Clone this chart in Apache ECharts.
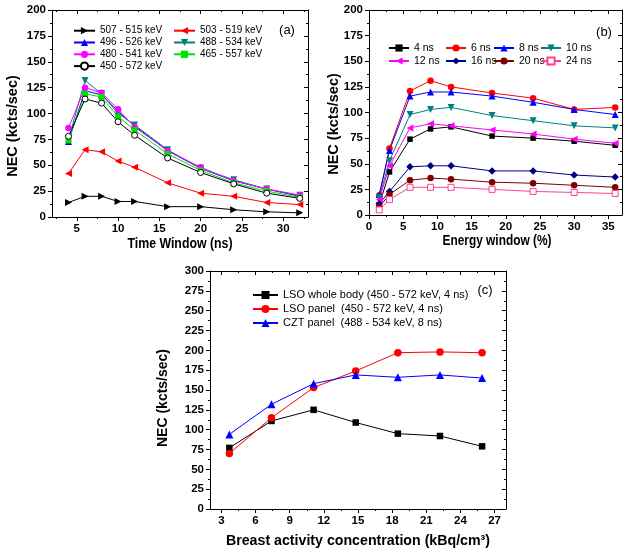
<!DOCTYPE html>
<html><head><meta charset="utf-8">
<script src="https://cdn.jsdelivr.net/npm/echarts@6/dist/echarts.min.js"></script>
<style>html,body{margin:0;padding:0;background:#fff}#c{width:629px;height:553px}</style>
</head><body><div id="c"></div>
<script>
// ---------- Panel (a): NEC vs time window ----------
const aX = [4, 6, 8, 10, 12, 16, 20, 24, 28, 32];
const a507_515 = [14, 20, 20, 15, 15, 10, 10, 7, 5, 4];
const a503_519 = [42, 65, 63, 54, 48, 33, 23, 20, 14, 12];
const a496_526 = [73, 122, 118, 102, 88, 64, 47, 35, 27, 20];
const a488_534 = [75, 132, 119, 100, 89, 65, 47, 36, 27, 21];
const a480_541 = [86, 125, 120, 104, 87, 64, 48, 35, 27, 21];
const a465_557 = [74, 119, 116, 97, 84, 61, 45, 33, 25, 19];
const a450_572 = [78, 114, 110, 92, 79, 57, 43, 32, 23, 18];
const aXTicks = [5, 10, 15, 20, 25, 30];
const aXMinor = [2.5, 7.5, 12.5, 17.5, 22.5, 27.5, 32.5];
const aYTicks = [0, 25, 50, 75, 100, 125, 150, 175, 200];
const aYMinor = [12.5, 37.5, 62.5, 87.5, 112.5, 137.5, 162.5, 187.5];

// ---------- Panel (b): NEC vs energy window ----------
const bX = [1.5, 3, 6, 9, 12, 18, 24, 30, 36];
const b4ns = [10, 42, 74, 84, 86, 77, 75, 72, 68];
const b6ns = [19, 65, 121, 131, 125, 119, 114, 103, 105];
const b8ns = [20, 63, 116, 120, 120, 116, 110, 103, 98];
const b10ns = [17, 53, 98, 103, 105, 97, 92, 87, 85];
const b12ns = [15, 48, 85, 89, 87, 83, 79, 74, 70];
const b16ns = [11, 23, 47, 48, 48, 43, 43, 39, 37];
const b20ns = [8, 20, 34, 36, 35, 32, 31, 29, 27];
const b24ns = [5, 15, 27, 27, 27, 25, 23, 22, 21];
const bXTicks = [0, 5, 10, 15, 20, 25, 30, 35];
const bXMinor = [2.5, 7.5, 12.5, 17.5, 22.5, 27.5, 32.5];
const bYTicks = [0, 25, 50, 75, 100, 125, 150, 175, 200];
const bYMinor = [12.5, 37.5, 62.5, 87.5, 112.5, 137.5, 162.5, 187.5];

// ---------- Panel (c): NEC vs breast activity concentration ----------
const cX = [3.7, 7.4, 11.1, 14.8, 18.5, 22.2, 25.9];
const cLSOwholeBody = [77, 111, 125, 109, 95, 92, 79];
const cLSOpanel = [70, 115, 153, 174, 197, 198, 197];
const cCZTpanel = [94, 132, 158, 169, 166, 169, 165];
const cXTicks = [3, 6, 9, 12, 15, 18, 21, 24, 27];
const cXMinor = [4.5, 7.5, 10.5, 13.5, 16.5, 19.5, 22.5, 25.5];
const cYTicks = [0, 25, 50, 75, 100, 125, 150, 175, 200, 225, 250, 275, 300];
const cYMinor = [12.5, 37.5, 62.5, 87.5, 112.5, 137.5, 162.5, 187.5, 212.5, 237.5, 262.5, 287.5];

const FONT = '"Liberation Sans",Arial,Helvetica,sans-serif';
const xAxes = [], yAxes = [];

function addAxes(list, grid, pos, mirror, min, max, majors, minors, margin) {
  const base = { gridIndex: grid, type: 'value', min: min, max: max, splitLine: { show: false } };
  const line = { color: '#000', width: 1 };
  const idx = list.length;
  list.push(Object.assign({}, base, {
    position: pos,
    axisLine: { show: true, onZero: false, lineStyle: line },
    axisTick: { show: true, customValues: majors, length: 4, lineStyle: line },
    axisLabel: { show: true, customValues: majors, fontFamily: FONT, fontWeight: 'bold', fontSize: 11.5, color: '#000', margin: margin }
  }));
  list.push(Object.assign({}, base, {
    position: pos,
    axisLine: { show: false, onZero: false },
    axisTick: { show: true, customValues: minors, length: 2, lineStyle: line },
    axisLabel: { show: false }
  }));
  list.push(Object.assign({}, base, {
    position: mirror,
    axisLine: { show: true, onZero: false, lineStyle: line },
    axisTick: { show: true, customValues: majors, length: 4, inside: true, lineStyle: line },
    axisLabel: { show: false }
  }));
  list.push(Object.assign({}, base, {
    position: mirror,
    axisLine: { show: false, onZero: false },
    axisTick: { show: true, customValues: minors, length: 2, inside: true, lineStyle: line },
    axisLabel: { show: false }
  }));
  return idx;
}

const axA = addAxes(xAxes, 0, 'bottom', 'top', 2, 33, aXTicks, aXMinor, 6);
const ayA = addAxes(yAxes, 0, 'left', 'right', 0, 200, aYTicks, aYMinor, 6);
const axB = addAxes(xAxes, 1, 'bottom', 'top', 0, 37, bXTicks, bXMinor, 6);
const ayB = addAxes(yAxes, 1, 'left', 'right', 0, 200, bYTicks, bYMinor, 6);
const axC = addAxes(xAxes, 2, 'bottom', 'top', 2, 28, cXTicks, cXMinor, 6);
const ayC = addAxes(yAxes, 2, 'left', 'right', 0, 300, cYTicks, cYMinor, 6);

// hollow: white fill with coloured outline
function mk(name, xs, ys, color, symbol, rotate, xi, yi, size, hollow) {
  return {
    name: name, type: 'line', xAxisIndex: xi, yAxisIndex: yi,
    data: xs.map(function (x, i) { return [x, ys[i]]; }),
    symbol: symbol, symbolSize: size, symbolRotate: rotate,
    showAllSymbol: true, animation: false, z: 3,
    lineStyle: { color: color, width: 1 },
    itemStyle: hollow
      ? { color: '#ffffff', borderColor: color, borderWidth: 1, opacity: 1 }
      : { color: color, borderWidth: 0, opacity: 1 },
    emphasis: { disabled: true }
  };
}

const series = [
  mk('507 - 515 keV', aX, a507_515, '#000000', 'triangle', -90, axA, ayA, 7),
  mk('503 - 519 keV', aX, a503_519, '#ff0000', 'triangle', 90, axA, ayA, 7),
  mk('496 - 526 keV', aX, a496_526, '#0000ff', 'triangle', 0, axA, ayA, 7),
  mk('488 - 534 keV', aX, a488_534, '#008080', 'triangle', 180, axA, ayA, 7),
  mk('480 - 541 keV', aX, a480_541, '#ff00ff', 'circle', 0, axA, ayA, 6.5),
  mk('465 - 557 keV', aX, a465_557, '#00e000', 'rect', 0, axA, ayA, 6),
  mk('450 - 572 keV', aX, a450_572, '#000000', 'circle', 0, axA, ayA, 6, true),

  mk('4 ns', bX, b4ns, '#000000', 'rect', 0, axB, ayB, 5.5),
  mk('6 ns', bX, b6ns, '#ff0000', 'circle', 0, axB, ayB, 6.5),
  mk('8 ns', bX, b8ns, '#0000ff', 'triangle', 0, axB, ayB, 7),
  mk('10 ns', bX, b10ns, '#008080', 'triangle', 180, axB, ayB, 7),
  mk('12 ns', bX, b12ns, '#ff00ff', 'triangle', 90, axB, ayB, 7),
  mk('16 ns', bX, b16ns, '#000080', 'diamond', 0, axB, ayB, 7.5),
  mk('20 ns', bX, b20ns, '#800000', 'circle', 0, axB, ayB, 6.5),
  mk('24 ns', bX, b24ns, '#ff4090', 'rect', 0, axB, ayB, 6, true),

  mk('LSO whole body (450 - 572 keV, 4 ns)', cX, cLSOwholeBody, '#000000', 'rect', 0, axC, ayC, 6.5),
  mk('LSO panel  (450 - 572 keV, 4 ns)', cX, cLSOpanel, '#ff0000', 'circle', 0, axC, ayC, 7.5),
  mk('CZT panel  (488 - 534 keV, 8 ns)', cX, cCZTpanel, '#0000ff', 'triangle', 0, axC, ayC, 8)
];

function lg(names, left, top, fs, lh, iw, ih, gap) {
  return {
    data: names, left: left, top: top, orient: 'vertical', padding: 0,
    itemWidth: iw, itemHeight: ih, itemGap: gap, selectedMode: false,
    textStyle: { fontFamily: FONT, fontSize: fs, lineHeight: lh, color: '#000' }
  };
}

const legends = [
  lg(['507 - 515 keV', '496 - 526 keV', '480 - 541 keV', '450 - 572 keV'], 73, 24.8, 10, 11.8, 21, 9, 0),
  lg(['503 - 519 keV', '488 - 534 keV', '465 - 557 keV'], 173, 24.8, 10, 11.8, 21, 9, 0),
  lg(['4 ns', '12 ns'], 388, 42, 10.5, 12, 20, 9, 1),
  lg(['6 ns', '16 ns'], 445, 42, 10.5, 12, 20, 9, 1),
  lg(['8 ns', '20 ns'], 493, 42, 10.5, 12, 20, 9, 1),
  lg(['10 ns', '24 ns'], 540, 42, 10.5, 12, 20, 9, 1),
  lg(['LSO whole body (450 - 572 keV, 4 ns)', 'LSO panel  (450 - 572 keV, 4 ns)', 'CZT panel  (488 - 534 keV, 8 ns)'], 252, 288.5, 11, 13, 25, 10, 1)
];

function txt(s, x, y, size, bold, rot, sx) {
  return {
    type: 'text', x: x, y: y, rotation: rot || 0, scaleX: sx || 1, silent: true,
    style: { text: s, fontFamily: FONT, fontSize: size, fontWeight: bold ? 'bold' : 'normal', fill: '#000', align: 'center', verticalAlign: 'middle' }
  };
}

const option = {
  backgroundColor: '#fff',
  animation: false,
  grid: [
    { left: 52, top: 10, width: 256, height: 207, outerBoundsMode: 'none', containLabel: false },
    { left: 369, top: 10, width: 253, height: 205, outerBoundsMode: 'none', containLabel: false },
    { left: 210, top: 271, width: 296, height: 238, outerBoundsMode: 'none', containLabel: false }
  ],
  xAxis: xAxes,
  yAxis: yAxes,
  legend: legends,
  series: series,
  graphic: [
    txt('Time Window (ns)', 180, 244, 14.5, true, 0, 0.85),
    txt('NEC (kcts/sec)', 13, 126, 14.5, true, Math.PI / 2),
    txt('(a)', 287, 30, 13, false),
    txt('Energy window (%)', 497, 241, 14.5, true, 0, 0.82),
    txt('NEC (kcts/sec)', 334, 124, 14.5, true, Math.PI / 2),
    txt('(b)', 604, 32, 13, false),
    txt('Breast activity concentration (kBq/cm³)', 358, 541, 14.2, true),
    txt('NEC (kcts/sec)', 163, 398, 14, true, Math.PI / 2),
    txt('(c)', 485, 290, 13, false)
  ]
};

const chart = echarts.init(document.getElementById('c'), null, { renderer: 'canvas' });
chart.setOption(option);
</script></body></html>
